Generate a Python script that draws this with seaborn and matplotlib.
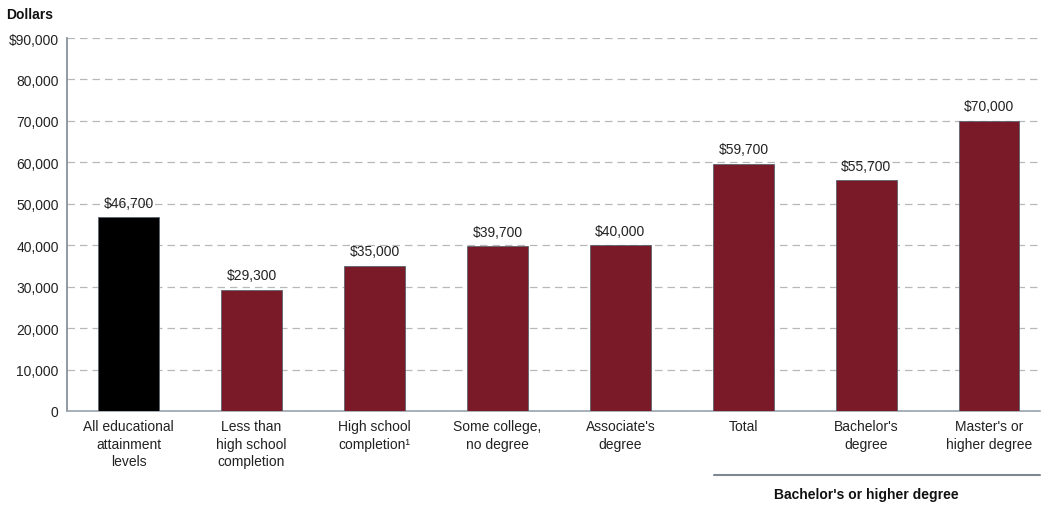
import matplotlib
matplotlib.use("Agg")
import matplotlib.pyplot as plt
import seaborn as sns
import pandas as pd

categories = [
    "All educational\nattainment\nlevels",
    "Less than\nhigh school\ncompletion",
    "High school\ncompletion\u00b9",
    "Some college,\nno degree",
    "Associate's\ndegree",
    "Total",
    "Bachelor's\ndegree",
    "Master's or\nhigher degree",
]
earnings = [46700, 29300, 35000, 39700, 40000, 59700, 55700, 70000]
group = ["all", "level", "level", "level", "level", "level", "level", "level"]
y_ticks = [0, 10000, 20000, 30000, 40000, 50000, 60000, 70000, 80000, 90000]
y_tick_labels = ["0", "10,000", "20,000", "30,000", "40,000", "50,000",
                 "60,000", "70,000", "80,000", "$90,000"]

sns.set_style("white")
plt.rcParams["font.family"] = ["Liberation Sans", "DejaVu Sans"]
plt.rcParams["font.size"] = 10

df = pd.DataFrame({"category": categories, "earnings": earnings, "group": group})

fig = plt.figure(figsize=(10.45, 5.06), dpi=100)
ax = fig.add_axes([0.0641, 0.1858, 0.9309, 0.7371])

sns.barplot(data=df, x="category", y="earnings", hue="group",
            palette={"all": "#000000", "level": "#7A1928"}, saturation=1,
            dodge=False, width=0.49, legend=False, ax=ax,
            edgecolor="#5a6470", linewidth=0.6, zorder=3)

ax.set_xlim(-0.5, 7.41)
ax.set_ylim(0, 90000)
ax.set_yticks(y_ticks)
ax.set_yticklabels(y_tick_labels, color="#222222")
ax.yaxis.grid(True, linestyle=(0, (6, 4)), color="#b8b8b8", linewidth=0.9, zorder=0)
ax.set_axisbelow(True)
ax.tick_params(axis="y", length=4, width=0.8, color="#7f8890", pad=2)
ax.tick_params(axis="x", length=0, pad=6)
plt.setp(ax.get_xticklabels(), color="#222222", linespacing=1.32)

for side in ("top", "right"):
    ax.spines[side].set_visible(False)
ax.spines["left"].set_color("#7f8890")
ax.spines["left"].set_linewidth(1.2)
ax.spines["bottom"].set_color("#9aa3ab")
ax.spines["bottom"].set_linewidth(1.2)
ax.set_xlabel("")
ax.set_ylabel("")

for i, v in enumerate(earnings):
    ax.text(i, v + 1800, f"${v:,}", ha="center", va="bottom",
            fontsize=10, color="#222222")

# axis unit label at the top left of the figure
fig.text(0.006, 0.957, "Dollars", ha="left", va="bottom",
         fontsize=10, fontweight="bold", color="#111111")

# bracket grouping the bachelor's or higher degree bars
trans = ax.get_xaxis_transform()
ax.plot([4.76, 7.41], [-0.172, -0.172], transform=trans, color="#7f8890",
        linewidth=1.5, clip_on=False)
ax.text(6.0, -0.205, "Bachelor's or higher degree", transform=trans,
        ha="center", va="top", fontsize=10, fontweight="bold", color="#111111")

fig.savefig("out.png", dpi=100, facecolor="white")
